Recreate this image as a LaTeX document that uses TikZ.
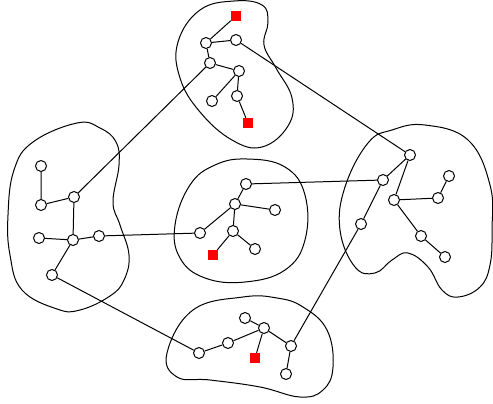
\documentclass[tikz,border=0pt]{standalone}
\begin{document}
\begin{tikzpicture}[x=1pt,y=-1pt,line width=1pt,
  vtx/.style={circle,draw,fill=white,minimum size=11pt,inner sep=0pt},
  sq/.style={rectangle,fill=red,minimum size=9.5pt,inner sep=0pt},
  blob/.style={draw,line width=1pt}]
\useasboundingbox (0,0) rectangle (493,404);
% blobs
\draw[blob] plot[smooth cycle,tension=0.7] coordinates {(200,10) (234,1) (262,5) (268,22) (264,45) (276,68) (292,98) (288,126) (262,147) (232,140) (200,112) (180,78) (178,42)};
\draw[blob] plot[smooth cycle,tension=0.7] coordinates {(77,123) (100,128) (116,142) (119,165) (113,202) (120,225) (129,255) (124,280) (110,296) (80,310) (57,309) (22,290) (10,255) (8,215) (14,170) (33,142)};
\draw[blob] plot[smooth cycle,tension=0.7] coordinates {(247,159) (285,167) (305,195) (305,240) (285,270) (245,282) (205,278) (180,258) (175,225) (190,185) (215,165)};
\draw[blob] plot[smooth cycle,tension=0.7] coordinates {(425,125) (468,140) (490,185) (492,230) (490,265) (480,287) (458,297) (442,290) (428,267) (408,253) (392,260) (375,273) (355,267) (340,230) (345,187) (368,143) (392,130)};
\draw[blob] plot[smooth cycle,tension=0.7] coordinates {(243,297) (277,298) (303,307) (327,330) (333,367) (323,390) (300,397) (260,387) (210,380) (177,377) (167,353) (193,310)};
% top cluster
\node[sq] (as1) at (236,16) {};
\node[vtx] (a1) at (206,43) {};
\node[vtx] (a2) at (236,40) {};
\node[vtx] (a3) at (210,63) {};
\node[vtx] (a4) at (239,71) {};
\node[vtx] (a5) at (212,101) {};
\node[vtx] (a6) at (237,96) {};
\node[sq] (as2) at (248,123) {};
% left cluster
\node[vtx] (b1) at (41,166) {};
\node[vtx] (b2) at (41,205) {};
\node[vtx] (b3) at (74,197) {};
\node[vtx] (b4) at (39,238) {};
\node[vtx] (b5) at (73,240) {};
\node[vtx] (b6) at (99,236) {};
\node[vtx] (b7) at (52,275) {};
% center cluster
\node[vtx] (c1) at (246,184) {};
\node[vtx] (c2) at (235,204) {};
\node[vtx] (c3) at (275,210) {};
\node[vtx] (c4) at (200,233) {};
\node[vtx] (c5) at (233,231) {};
\node[vtx] (c6) at (255,249) {};
\node[sq] (cs) at (213,255) {};
% right cluster
\node[vtx] (d1) at (410,155) {};
\node[vtx] (d2) at (383,180) {};
\node[vtx] (d3) at (394,200) {};
\node[vtx] (d4) at (449,176) {};
\node[vtx] (d5) at (438,198) {};
\node[vtx] (d6) at (361,224) {};
\node[vtx] (d7) at (421,236) {};
\node[vtx] (d8) at (445,257) {};
% bottom cluster
\node[vtx] (e1) at (199,353) {};
\node[vtx] (e2) at (228,343) {};
\node[vtx] (e3) at (245,318) {};
\node[vtx] (e4) at (264,328) {};
\node[vtx] (e5) at (291,346) {};
\node[vtx] (e6) at (286,374) {};
\node[sq] (es) at (255,358) {};
% edges
\draw (as1)--(a1) (a1)--(a2) (a1)--(a3) (a3)--(a4) (a4)--(a5) (a4)--(a6) (a6)--(as2);
\draw (b1)--(b2) (b2)--(b3) (b3)--(b5) (b4)--(b5) (b5)--(b6) (b5)--(b7);
\draw (c1)--(c2) (c2)--(c3) (c2)--(c4) (c2)--(c5) (c5)--(c6) (c5)--(cs);
\draw (d1)--(d2) (d1)--(d3) (d2)--(d6) (d3)--(d5) (d5)--(d4) (d3)--(d7) (d7)--(d8);
\draw (e1)--(e2) (e2)--(e4) (e3)--(e4) (e4)--(e5) (e5)--(e6) (e4)--(es);
% inter-cluster
\draw (a2)--(d1) (a3)--(b3) (b6)--(c4) (b7)--(e1) (c1)--(d2) (d6)--(e5);
\end{tikzpicture}
\end{document}
